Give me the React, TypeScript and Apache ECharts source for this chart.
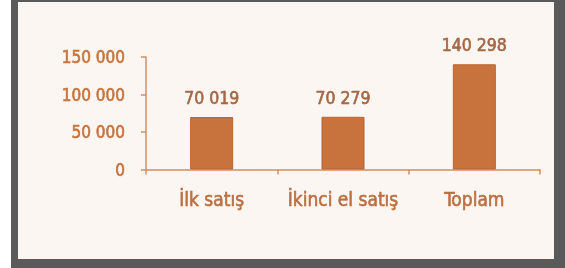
import React, { useEffect, useRef } from "react";
import * as echarts from "echarts";

const categories = ["İlk satış", "İkinci el satış", "Toplam"];
const values = [70019, 70279, 140298];
const yTicks = [0, 50000, 100000, 150000];

const fmt = (v: number) => {
  const s = String(Math.round(v));
  return s.replace(/\B(?=(\d{3})+(?!\d))/g, " ");
};

const FONT = "'DejaVu Sans Condensed', 'DejaVu Sans', sans-serif";

export default function App() {
  const ref = useRef<HTMLDivElement>(null);
  useEffect(() => {
    if (!ref.current) return;
    const chart = echarts.init(ref.current, null, { renderer: "svg" });
    chart.setOption({
      animation: false,
      backgroundColor: "transparent",
      graphic: [
        { type: "rect", z: -10, silent: true, shape: { x: 11, y: 0, width: 554, height: 268 }, style: { fill: "#5a5a5a" } },
        { type: "rect", z: -9, silent: true, shape: { x: 18, y: 2, width: 536, height: 257 }, style: { fill: "#fcf6f2" } },
      ],
      grid: { left: 146, right: 25, top: 57, bottom: 98.5 },
      xAxis: {
        type: "category",
        data: categories,
        boundaryGap: true,
        axisLine: { lineStyle: { color: "#d98c58", width: 1.5 } },
        axisTick: { show: true, inside: false, length: 5, lineStyle: { color: "#d98c58", width: 1.5 } },
        axisLabel: {
          interval: 0,
          hideOverlap: false,
          margin: 20,
          color: "#bb6f42",
          fontSize: 19,
          fontFamily: FONT,
          textBorderColor: "#bb6f42",
          textBorderWidth: 0.6,
        },
      },
      yAxis: {
        type: "value",
        min: yTicks[0],
        max: yTicks[yTicks.length - 1],
        interval: yTicks[1] - yTicks[0],
        splitLine: { show: false },
        axisLine: { show: true, lineStyle: { color: "#d98c58", width: 1.5 } },
        axisTick: { show: true, inside: false, length: 5, lineStyle: { color: "#d98c58", width: 1.5 } },
        axisLabel: {
          margin: 21,
          color: "#c6743c",
          fontSize: 17,
          fontFamily: FONT,
          textBorderColor: "#c6743c",
          textBorderWidth: 0.6,
          formatter: (v: number) => fmt(v),
        },
      },
      series: [
        {
          type: "bar",
          data: values,
          barWidth: 43,
          itemStyle: { color: "#c8733d", borderColor: "#b8652f", borderWidth: 1 },
          label: {
            show: true,
            position: "top",
            distance: 10,
            color: "#a46744",
            fontSize: 17.5,
            fontFamily: FONT,
            textBorderColor: "#a46744",
            textBorderWidth: 0.6,
            formatter: (p: any) => fmt(p.value),
          },
        },
      ],
    });
    return () => chart.dispose();
  }, []);
  return <div ref={ref} style={{ position: "fixed", left: 0, top: 0, width: 565, height: 268 }} />;
}
